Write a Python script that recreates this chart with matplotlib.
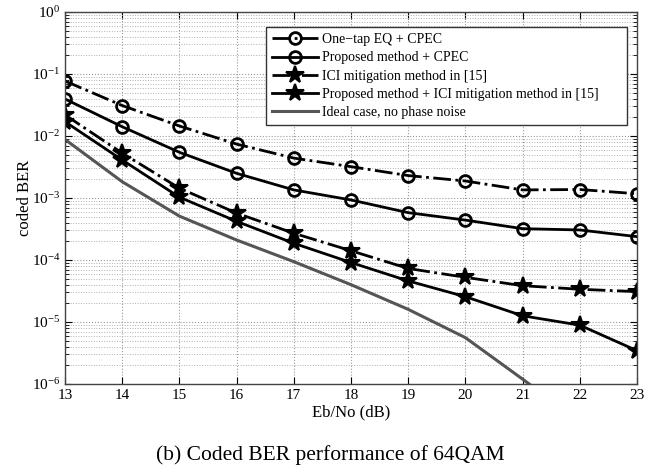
import numpy as np
import matplotlib
matplotlib.use('Agg')
import matplotlib.pyplot as plt
from matplotlib.ticker import LogLocator, NullFormatter

plt.rcParams['font.family'] = ['Liberation Serif', 'DejaVu Serif']
plt.rcParams['mathtext.fontset'] = 'custom'
plt.rcParams['mathtext.rm'] = 'Liberation Serif'
plt.rcParams['mathtext.it'] = 'Liberation Serif:italic'

# Eb/No axis
ebno = [13, 14, 15, 16, 17, 18, 19, 20, 21, 22, 23]

# coded BER
onetap_cpec = [0.077, 0.031, 0.0145, 0.0074, 0.0044, 0.0032, 0.0023, 0.00188, 0.00135, 0.00137, 0.00117]
prop_cpec = [0.0395, 0.0141, 0.00546, 0.0025, 0.00135, 0.00093, 0.00058, 0.00044, 0.00032, 0.000305, 0.000238]
ici_ref = [0.0219, 0.0053, 0.00144, 0.00057, 0.00027, 0.000141, 7.3e-5, 5.25e-5, 3.85e-5, 3.37e-5, 3.09e-5]
prop_ici = [0.017, 0.0041, 0.00103, 0.00042, 0.000186, 9.1e-5, 4.6e-5, 2.56e-5, 1.26e-5, 8.9e-6, 3.45e-6]
ideal = [0.0088, 0.00183, 0.00051, 0.00021, 9.4e-5, 4.0e-5, 1.6e-5, 5.6e-6, 1.2e-6, 2.5e-7, 5e-8]

labels = ['One\u2212tap EQ + CPEC', 'Proposed method + CPEC',
          'ICI mitigation method in [15]',
          'Proposed method + ICI mitigation method in [15]',
          'Ideal case, no phase noise']

fig = plt.figure(figsize=(6.6, 4.7), dpi=100)
ax = fig.add_axes([0.0985, 0.183, 0.8665, 0.7915])

ax.semilogy(ebno, onetap_cpec, color='k', lw=2, ls='-.', marker='o', ms=8.5,
            mfc='none', mew=2, label=labels[0])
ax.semilogy(ebno, prop_cpec, color='k', lw=2, ls='-', marker='o', ms=8.5,
            mfc='none', mew=2, label=labels[1])
ax.semilogy(ebno, ici_ref, color='k', lw=2, ls='-.', marker='*', ms=13,
            mfc='k', mew=1.5, label=labels[2])
ax.semilogy(ebno, prop_ici, color='k', lw=2, ls='-', marker='*', ms=13,
            mfc='k', mew=1.5, label=labels[3])
ax.semilogy(ebno, ideal, color='#555555', lw=2.2, ls='-', label=labels[4])

ax.set_xlim(13, 23)
ax.set_ylim(1e-6, 1)
ax.set_xticks(ebno)
ax.yaxis.set_major_locator(LogLocator(base=10, numticks=10))
ax.yaxis.set_minor_locator(LogLocator(base=10, subs=np.arange(2, 10), numticks=20))
ax.yaxis.set_minor_formatter(NullFormatter())

ax.grid(True, which='major', ls=':', color='#9a9a9a', lw=0.8)
ax.grid(True, which='minor', axis='y', ls=':', color='#b0b0b0', lw=0.7)
ax.tick_params(which='both', direction='in', top=True, right=True, labelsize=11)
ax.tick_params(which='major', length=5)
ax.tick_params(which='minor', length=3)
for s in ax.spines.values():
    s.set_color('#444444')
    s.set_linewidth(1)

ax.set_xlabel('Eb/No (dB)', fontsize=12, labelpad=2)
ax.set_ylabel('coded BER', fontsize=12)
ax.yaxis.set_label_coords(-0.056, 0.5)

# matlab-style legend box, wider than its text
leg = ax.legend(loc='upper left', bbox_to_anchor=(0.351, 0.5, 0.631, 0.46),
                mode='expand', borderaxespad=0, fontsize=10,
                fancybox=False, edgecolor='#333333', framealpha=1,
                handlelength=3.3, labelspacing=0.38, borderpad=0.45, handletextpad=0.3)
leg.get_frame().set_linewidth(1)

fig.text(0.5, 0.022, '(b) Coded BER performance of 64QAM', ha='center', fontsize=15.5)

fig.savefig('out.png', dpi=100)
